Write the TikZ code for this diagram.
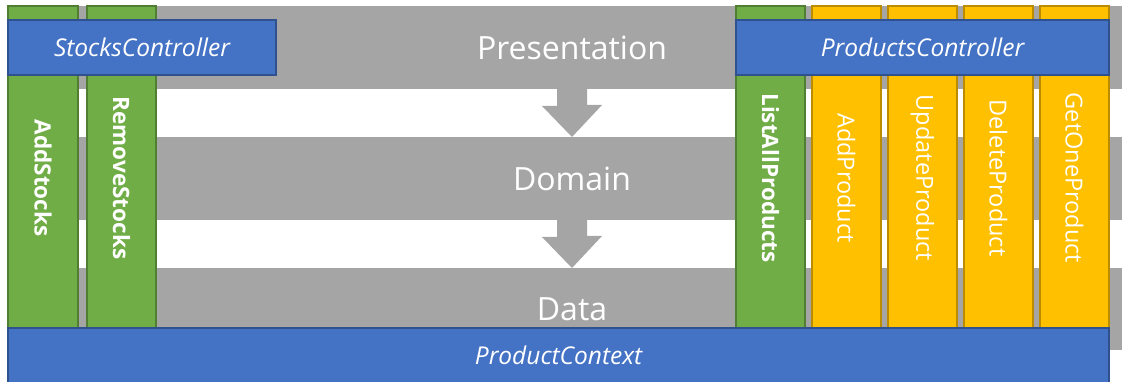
\documentclass[tikz,border=0pt]{standalone}
\usepackage{fontspec}
\setmainfont{Open Sans}
\usetikzlibrary{calc}
\definecolor{grayband}{HTML}{A5A5A5}
\definecolor{colgreen}{HTML}{70AD47}
\definecolor{colgreenedge}{HTML}{507E32}
\definecolor{colyellow}{HTML}{FFC000}
\definecolor{colyellowedge}{HTML}{BC8C00}
\definecolor{colblue}{HTML}{4472C4}
\definecolor{colblueedge}{HTML}{2F528F}
\tikzset{
  base/.style={anchor=north west, inner sep=0pt, outer sep=0pt, line width=1.2pt},
  band/.style={base, fill=grayband, minimum width=1114pt},
  gcol/.style={base, fill=colgreen, draw=colgreenedge, minimum width=69pt, minimum height=322pt},
  ycol/.style={base, fill=colyellow, draw=colyellowedge, minimum width=69pt, minimum height=322pt},
  ctrl/.style={base, fill=colblue, draw=colblueedge, minimum height=55pt},
  bandtext/.style={text=white, font=\fontsize{32}{38}\selectfont},
  ctrltext/.style={text=white, font=\itshape\fontsize{24.5}{29}\selectfont},
  gtext/.style={text=white, rotate=-90, font=\bfseries\fontsize{22.5}{27}\selectfont},
  ytext/.style={text=white, rotate=-90, font=\fontsize{23.5}{28}\selectfont},
  flow/.style={fill=grayband},
}
\begin{document}
\begin{tikzpicture}[x=1pt,y=-1pt]
\useasboundingbox (0,0) rectangle (1122,382);
\coordinate (ax) at (572,0);
\coordinate (mid) at (0,178);
% layer bands
\node[band, minimum height=83pt] (pres) at (8,6) {};
\node[band, minimum height=83pt] (dom) at (8,137) {};
\node[band, minimum height=82pt] (data) at (8,268) {};
% flow arrows
\fill[flow] ($(pres.south -| ax)+(-15,0)$) -- ++(30,0) -- ++(0,16) -- ++(15,0)
  -- (dom.north -| ax) -- ++(-30,-31) -- ++(15,0) -- cycle;
\fill[flow] ($(dom.south -| ax)+(-15,0)$) -- ++(30,0) -- ++(0,16) -- ++(15,0)
  -- (data.north -| ax) -- ++(-30,-31) -- ++(15,0) -- cycle;
% band labels
\node[bandtext] (presl) at (pres.center -| ax) {Presentation};
\node[bandtext] (doml) at (dom.center -| ax) {Domain};
\node[bandtext] (datal) at (data.center -| ax) {Data};
% columns
\node[gcol, minimum width=70pt] (addstocks) at (8,6) {};
\node[gcol] (removestocks) at (87,6) {};
\node[gcol] (listall) at (736,6) {};
\node[ycol] (addprod) at (812,6) {};
\node[ycol] (updprod) at (888,6) {};
\node[ycol] (delprod) at (964,6) {};
\node[ycol] (getone) at (1040,6) {};
\node[gtext] (addstocksl) at (addstocks |- mid) {AddStocks};
\node[gtext] (removestocksl) at (removestocks |- mid) {RemoveStocks};
\node[gtext] (listalll) at (listall |- mid) {ListAllProducts};
\node[ytext] (addprodl) at (addprod |- mid) {AddProduct};
\node[ytext] (updprodl) at (updprod |- mid) {UpdateProduct};
\node[ytext] (delprodl) at (delprod |- mid) {DeleteProduct};
\node[ytext] (getonel) at (getone |- mid) {GetOneProduct};
% controllers and context
\node[ctrl, minimum width=268pt] (stocks) at (8,20) {};
\node[ctrltext] (stocksl) at (stocks.center) {StocksController};
\node[ctrl, minimum width=373pt] (products) at (736,20) {};
\node[ctrltext] (productsl) at (products.center) {ProductsController};
\node[ctrl, minimum width=1101pt, minimum height=58pt] (context) at (8,328) {};
\node[ctrltext] (contextl) at ($(context.north)+(0,27)$) {ProductContext};
\end{tikzpicture}
\end{document}
